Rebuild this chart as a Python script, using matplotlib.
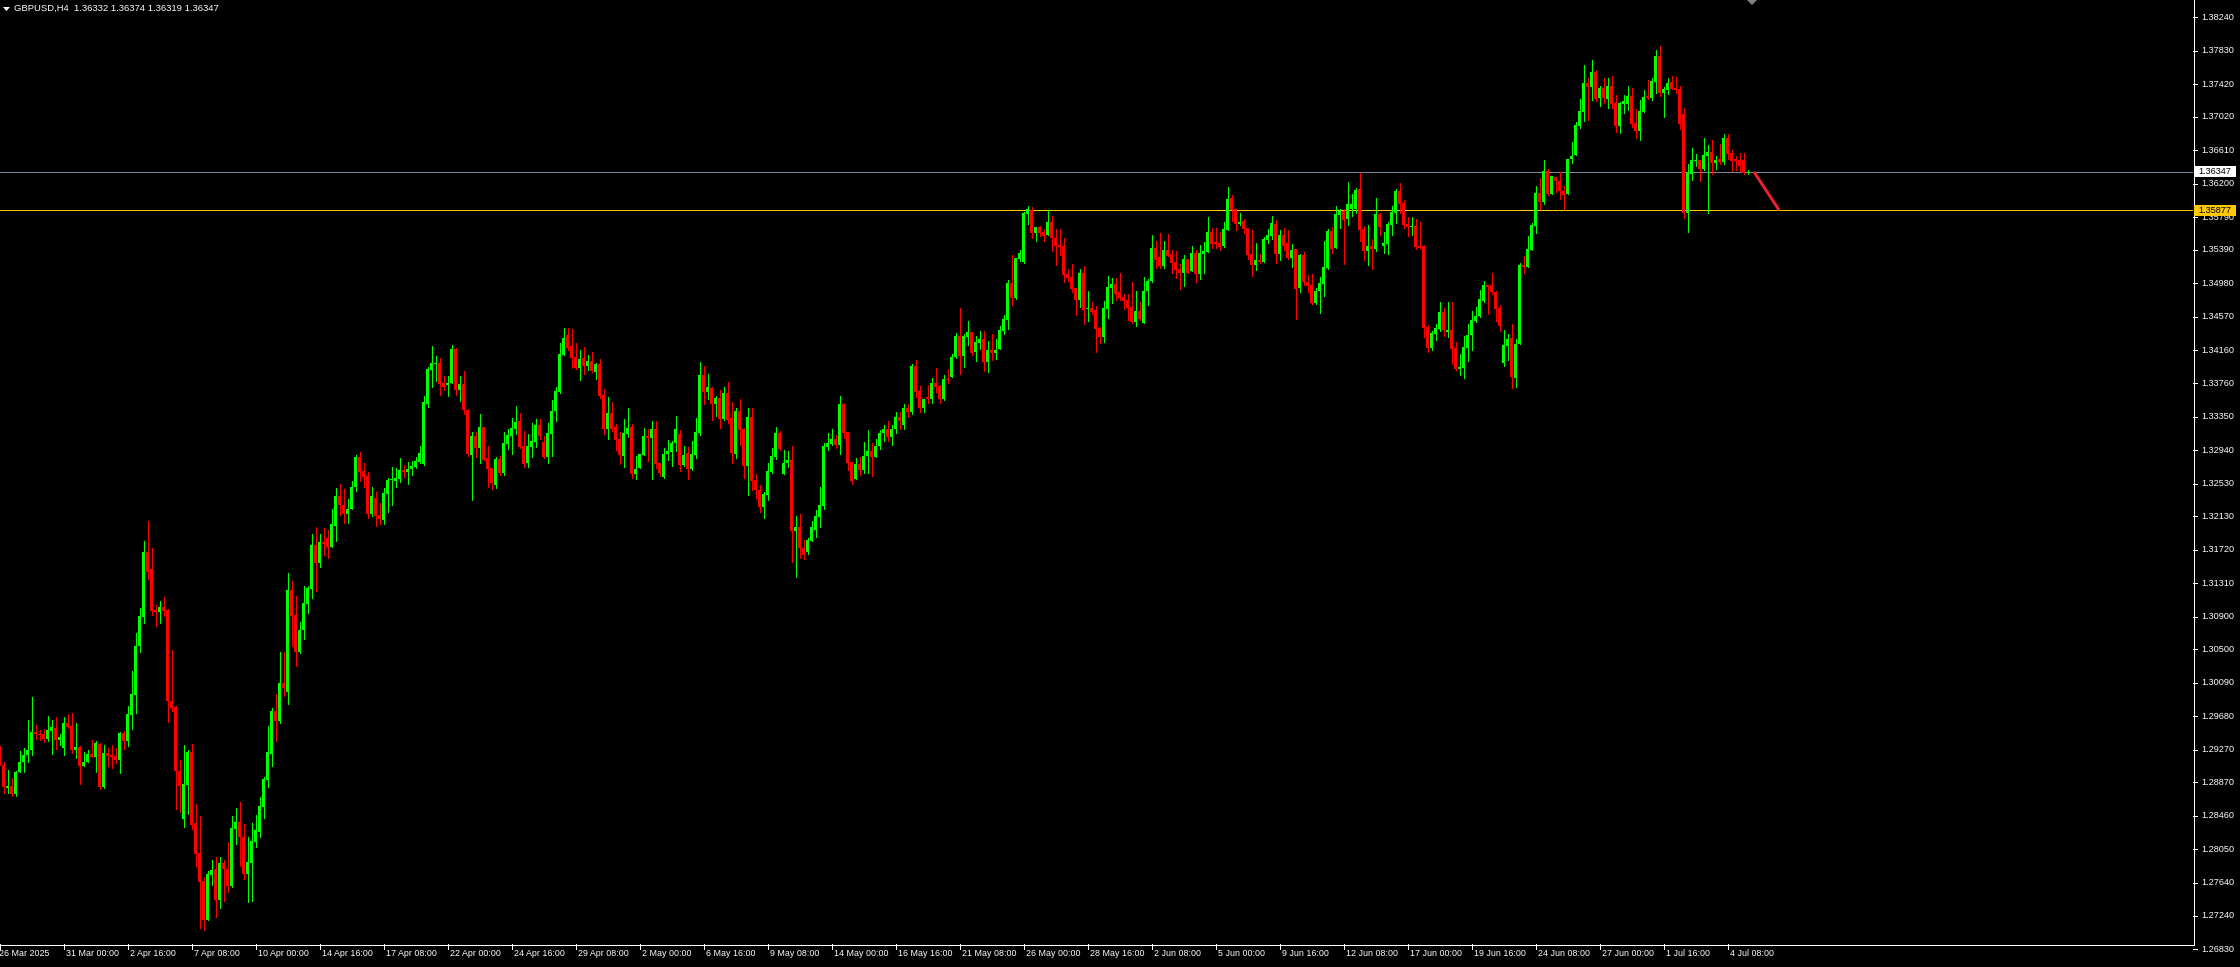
import matplotlib
matplotlib.use('Agg')
import matplotlib.pyplot as plt
from matplotlib.transforms import blended_transform_factory
from matplotlib.patches import Rectangle, Polygon
from matplotlib.lines import Line2D

plt.rcParams['font.family'] = ['Liberation Sans', 'DejaVu Sans']

# ---------------- data (GBPUSD H4) ----------------
opens = [
1.29312,1.29086,1.28806,1.28831,1.28724,1.29004,1.29115,1.29201,1.29271,1.29485,
1.29469,1.29460,1.29403,1.29501,1.29535,1.29387,1.29292,1.29597,1.29560,1.29271,
1.29300,1.29066,1.29127,1.29214,1.29177,1.29341,1.28819,1.29226,1.29201,1.29189,
1.29140,1.29473,1.29374,1.29696,1.29943,1.30535,1.30893,1.31696,1.31486,1.30979,
1.30955,1.31016,1.30979,1.29868,1.29794,1.29016,1.28424,1.28843,1.29238,1.28374,
1.28004,1.27658,1.27189,1.27732,1.27806,1.27436,1.27880,1.27806,1.27608,1.28300,
1.28386,1.28201,1.27744,1.27880,1.28139,1.28263,1.28572,1.28905,1.29214,1.29745,
1.29621,1.30090,1.29979,1.31226,1.30917,1.30473,1.30732,1.31053,1.31238,1.31781,
1.31559,1.31819,1.31868,1.31757,1.32016,1.32374,1.32263,1.32152,1.32214,1.32485,
1.32856,1.32683,1.32621,1.32152,1.32350,1.32140,1.32078,1.32399,1.32572,1.32560,
1.32584,1.32695,1.32671,1.32708,1.32732,1.32794,1.32770,1.33498,1.33918,1.33992,
1.34004,1.33757,1.33733,1.33757,1.34177,1.33671,1.33745,1.33436,1.32881,1.33115,
1.32967,1.33226,1.32843,1.32720,1.32510,1.32831,1.32658,1.33017,1.33115,1.33201,
1.33300,1.32992,1.32782,1.32979,1.33041,1.33251,1.33041,1.32856,1.33140,1.33412,
1.33646,1.34103,1.34350,1.34214,1.34078,1.33942,1.34066,1.33967,1.34029,1.33893,
1.33992,1.33609,1.33202,1.33399,1.33227,1.33079,1.32868,1.33140,1.33227,1.32646,
1.32720,1.32881,1.33115,1.33091,1.33202,1.32782,1.32609,1.32893,1.32919,1.33029,
1.33140,1.32757,1.32906,1.32708,1.32881,1.33153,1.33856,1.33646,1.33696,1.33498,
1.33572,1.33325,1.33634,1.33338,1.32893,1.33412,1.33202,1.32745,1.33350,1.32572,
1.32449,1.32239,1.32387,1.32671,1.32856,1.33153,1.32646,1.32782,1.32819,1.31955,
1.32004,1.31745,1.31687,1.31831,1.31967,1.32115,1.32251,1.32980,1.33017,1.33079,
1.33004,1.33498,1.33165,1.32794,1.32585,1.32770,1.32696,1.32869,1.32930,1.32856,
1.32992,1.33153,1.33200,1.33100,1.33200,1.33350,1.33250,1.33450,1.33400,1.33967,
1.33659,1.33450,1.33585,1.33560,1.33757,1.33721,1.33560,1.33807,1.33831,1.34079,
1.34338,1.34091,1.34326,1.34387,1.34140,1.34251,1.34301,1.34017,1.34165,1.34128,
1.34177,1.34400,1.34536,1.34980,1.34807,1.35277,1.35239,1.35831,1.35881,1.35597,
1.35671,1.35610,1.35573,1.35733,1.35536,1.35449,1.35437,1.35091,1.35054,1.34918,
1.34782,1.35103,1.34671,1.34684,1.34659,1.34436,1.34326,1.34671,1.34918,1.34967,
1.34881,1.34819,1.34782,1.34696,1.34511,1.34647,1.34498,1.34893,1.35005,1.35412,
1.35301,1.35190,1.35387,1.35338,1.35239,1.35153,1.35103,1.35276,1.35128,1.35350,
1.35091,1.35338,1.35363,1.35610,1.35486,1.35474,1.35437,1.35634,1.36029,1.35894,
1.35708,1.35746,1.35659,1.35338,1.35202,1.35264,1.35239,1.35511,1.35560,1.35708,
1.35338,1.35573,1.35474,1.35289,1.35400,1.34918,1.35326,1.34992,1.34955,1.34745,
1.34893,1.34968,1.35165,1.35622,1.35412,1.35820,1.35869,1.35770,1.35894,1.35894,
1.36140,1.35647,1.35375,1.35437,1.35400,1.35832,1.35437,1.35462,1.35696,1.35844,
1.36116,1.35968,1.35708,1.35671,1.35684,1.35437,1.35437,1.34449,1.34190,1.34363,
1.34424,1.34634,1.34387,1.34412,1.34190,1.33930,1.33939,1.34190,1.34351,1.34524,
1.34586,1.34770,1.34956,1.34956,1.34870,1.34684,1.34005,1.34216,1.34314,1.33820,
1.34240,1.35203,1.35178,1.35389,1.35684,1.36092,1.35981,1.36351,1.36080,1.36277,
1.36228,1.36117,1.36080,1.36499,1.36549,1.36907,1.37080,1.37438,1.37389,1.37574,
1.37253,1.37376,1.37240,1.37401,1.37191,1.36907,1.37179,1.37179,1.37277,1.36944,
1.36845,1.37080,1.37277,1.37253,1.37450,1.37759,1.37314,1.37351,1.37450,1.37376,
1.37364,1.37055,1.35845,1.36314,1.36475,1.36487,1.36376,1.36537,1.36586,1.36450,
1.36499,1.36462,1.36759,1.36574,1.36499,1.36487,1.36487,1.36332]

highs = [
1.29312,1.29127,1.29024,1.28930,1.29016,1.29251,1.29288,1.29634,1.29918,1.29572,
1.29518,1.29527,1.29683,1.29634,1.29670,1.29469,1.29670,1.29704,1.29720,1.29597,
1.29313,1.29238,1.29263,1.29395,1.29374,1.29350,1.29325,1.29288,1.29325,1.29288,
1.29485,1.29497,1.29806,1.30239,1.30696,1.31004,1.31831,1.32066,1.31745,1.31041,
1.31091,1.31140,1.30991,1.30498,1.29806,1.29140,1.29325,1.29263,1.29337,1.28609,
1.28461,1.27707,1.27781,1.27917,1.27954,1.27954,1.27917,1.28139,1.28461,1.28559,
1.28633,1.28362,1.28201,1.28374,1.28473,1.28695,1.28942,1.29559,1.29782,1.29955,
1.30473,1.30473,1.31436,1.31338,1.31152,1.30835,1.31275,1.31275,1.31917,1.32004,
1.31917,1.31991,1.31967,1.32214,1.32473,1.32522,1.32461,1.32337,1.32559,1.32880,
1.32918,1.32782,1.32671,1.32485,1.32424,1.32288,1.32473,1.32597,1.32732,1.32720,
1.32843,1.32757,1.32794,1.32806,1.32856,1.32992,1.33597,1.33955,1.34214,1.34090,
1.34066,1.33844,1.33844,1.34226,1.34189,1.33844,1.33905,1.33448,1.33165,1.33165,
1.33387,1.33226,1.32992,1.32720,1.32856,1.32868,1.33164,1.33201,1.33337,1.33485,
1.33399,1.33177,1.33140,1.33275,1.33325,1.33325,1.33115,1.33275,1.33547,1.33708,
1.34251,1.34436,1.34436,1.34424,1.34251,1.34165,1.34202,1.34103,1.34140,1.34005,
1.34054,1.33684,1.33585,1.33523,1.33264,1.33165,1.33325,1.33449,1.33264,1.32868,
1.32893,1.33214,1.33202,1.33301,1.33301,1.32782,1.32967,1.33066,1.33054,1.33362,
1.33190,1.32992,1.32980,1.33054,1.33338,1.34017,1.33967,1.33869,1.33708,1.33597,
1.33671,1.33708,1.33770,1.33523,1.33449,1.33560,1.33214,1.33449,1.33449,1.32646,
1.32511,1.32424,1.32782,1.32967,1.33227,1.33177,1.32943,1.32930,1.32992,1.32128,
1.32152,1.31844,1.31868,1.32066,1.32202,1.32486,1.33029,1.33153,1.33202,1.33128,
1.33597,1.33511,1.33165,1.32794,1.32844,1.32856,1.33041,1.33190,1.33029,1.33078,
1.33190,1.33250,1.33300,1.33250,1.33400,1.33400,1.33500,1.33500,1.33990,1.34041,
1.33720,1.33560,1.33733,1.33819,1.33943,1.33733,1.33856,1.33930,1.34116,1.34375,
1.34683,1.34362,1.34523,1.34387,1.34338,1.34400,1.34400,1.34276,1.34363,1.34301,
1.34461,1.34597,1.35017,1.35326,1.35289,1.35387,1.35857,1.35931,1.35918,1.35671,
1.35683,1.35647,1.35881,1.35807,1.35647,1.35647,1.35536,1.35153,1.35214,1.34918,
1.35153,1.35190,1.34893,1.34758,1.34708,1.34449,1.34770,1.35066,1.35042,1.35042,
1.35103,1.34856,1.34856,1.34992,1.34893,1.34758,1.35054,1.35029,1.35573,1.35498,
1.35597,1.35498,1.35585,1.35388,1.35375,1.35215,1.35326,1.35276,1.35437,1.35387,
1.35449,1.35486,1.35795,1.35659,1.35659,1.35610,1.35733,1.36165,1.36066,1.35894,
1.35844,1.35770,1.35659,1.35634,1.35474,1.35338,1.35548,1.35647,1.35807,1.35758,
1.35634,1.35659,1.35634,1.35462,1.35400,1.35338,1.35363,1.35079,1.35091,1.34918,
1.35054,1.35499,1.35647,1.35671,1.35931,1.35894,1.35894,1.36227,1.36079,1.36153,
1.36326,1.35684,1.35696,1.35523,1.36029,1.35844,1.35610,1.35733,1.35931,1.36140,
1.36215,1.36005,1.35795,1.35795,1.35770,1.35733,1.35449,1.34474,1.34400,1.34486,
1.34758,1.34684,1.34758,1.34758,1.34264,1.34116,1.34339,1.34487,1.34647,1.34697,
1.34894,1.35005,1.34956,1.35104,1.34882,1.34721,1.34413,1.34363,1.34487,1.34302,
1.35228,1.35314,1.35561,1.35721,1.36178,1.36265,1.36487,1.36376,1.36290,1.36277,
1.36339,1.36178,1.36499,1.36710,1.36956,1.37240,1.37648,1.37500,1.37710,1.37598,
1.37401,1.37500,1.37500,1.37524,1.37290,1.37203,1.37290,1.37401,1.37376,1.37117,
1.37228,1.37351,1.37475,1.37500,1.37833,1.37882,1.37389,1.37500,1.37524,1.37512,
1.37401,1.37129,1.36438,1.36635,1.36561,1.36487,1.36759,1.36672,1.36734,1.36537,
1.36685,1.36808,1.36808,1.36611,1.36537,1.36574,1.36574,1.36374]

lows = [
1.29086,1.28736,1.28745,1.28703,1.28699,1.29004,1.29004,1.29127,1.29210,1.29403,
1.29395,1.29366,1.29374,1.29214,1.29280,1.29329,1.29201,1.29540,1.29230,1.29169,
1.28847,1.29066,1.29127,1.29177,1.29004,1.28786,1.28807,1.29066,1.29053,1.29103,
1.28992,1.29280,1.29312,1.29527,1.29720,1.30473,1.30819,1.31362,1.30918,1.30782,
1.30819,1.30905,1.29609,1.29745,1.28547,1.28510,1.28325,1.28485,1.28300,1.27843,
1.27090,1.27065,1.27189,1.27621,1.27226,1.27337,1.27423,1.27534,1.27596,1.28115,
1.27843,1.27683,1.27411,1.27423,1.28078,1.28201,1.28436,1.28819,1.29066,1.29374,
1.29600,1.29930,1.29831,1.30547,1.30292,1.30460,1.30621,1.30942,1.31127,1.31213,
1.31510,1.31658,1.31621,1.31757,1.31831,1.32140,1.32041,1.32053,1.32214,1.32436,
1.32559,1.32485,1.32103,1.32127,1.32016,1.32029,1.32029,1.32177,1.32263,1.32485,
1.32547,1.32609,1.32522,1.32634,1.32720,1.32780,1.32757,1.33461,1.33708,1.33782,
1.33609,1.33671,1.33597,1.33757,1.33609,1.33535,1.33387,1.32868,1.32325,1.32856,
1.32782,1.32819,1.32485,1.32461,1.32473,1.32634,1.32634,1.32954,1.32893,1.33140,
1.32967,1.32732,1.32732,1.32856,1.32979,1.33078,1.32843,1.32782,1.32868,1.33300,
1.33634,1.34103,1.34165,1.33942,1.33930,1.33794,1.33868,1.33918,1.33893,1.33807,
1.33572,1.33140,1.33079,1.33177,1.32943,1.32770,1.32733,1.33103,1.32597,1.32585,
1.32720,1.32881,1.32807,1.32585,1.32720,1.32622,1.32597,1.32819,1.32745,1.32930,
1.32683,1.32745,1.32585,1.32696,1.32844,1.33128,1.33498,1.33560,1.33313,1.33362,
1.33214,1.33313,1.33276,1.32782,1.32844,1.33004,1.32597,1.32387,1.32449,1.32350,
1.32177,1.32103,1.32325,1.32659,1.32831,1.32943,1.32646,1.32733,1.31572,1.31387,
1.31621,1.31609,1.31671,1.31831,1.31881,1.32004,1.32214,1.32943,1.33004,1.32967,
1.32893,1.33091,1.32696,1.32523,1.32585,1.32634,1.32659,1.32659,1.32622,1.32856,
1.32950,1.33050,1.33050,1.33000,1.33150,1.33200,1.33200,1.33350,1.33380,1.33585,
1.33400,1.33400,1.33510,1.33510,1.33646,1.33510,1.33548,1.33757,1.33831,1.34066,
1.33869,1.33955,1.34227,1.34103,1.34029,1.34177,1.33906,1.33893,1.34042,1.34054,
1.34177,1.34362,1.34424,1.34721,1.34795,1.35252,1.35227,1.35708,1.35536,1.35498,
1.35560,1.35498,1.35573,1.35375,1.35202,1.35326,1.34992,1.35005,1.34881,1.34597,
1.34696,1.34486,1.34523,1.34610,1.34140,1.34251,1.34264,1.34560,1.34746,1.34782,
1.34782,1.34671,1.34535,1.34498,1.34461,1.34535,1.34498,1.34721,1.34992,1.35165,
1.35165,1.35165,1.35313,1.35103,1.35042,1.34906,1.34943,1.35103,1.35128,1.34992,
1.35029,1.35103,1.35363,1.35412,1.35412,1.35387,1.35425,1.35634,1.35746,1.35634,
1.35696,1.35597,1.35276,1.35066,1.35140,1.35227,1.35239,1.35474,1.35523,1.35227,
1.35264,1.35387,1.35276,1.35178,1.34548,1.34881,1.34955,1.34881,1.34733,1.34733,
1.34622,1.34832,1.35153,1.35350,1.35412,1.35659,1.35215,1.35696,1.35807,1.35844,
1.35499,1.35264,1.35202,1.35153,1.35375,1.35573,1.35350,1.35338,1.35573,1.35721,
1.35844,1.35659,1.35560,1.35573,1.35400,1.35412,1.34326,1.34140,1.34165,1.34289,
1.34400,1.34338,1.34326,1.33992,1.33918,1.33857,1.33820,1.34030,1.34166,1.34512,
1.34573,1.34758,1.34610,1.34845,1.34524,1.34400,1.33968,1.34042,1.33696,1.33709,
1.34240,1.35104,1.35178,1.35389,1.35598,1.35895,1.35956,1.36067,1.36080,1.36104,
1.36018,1.35894,1.36080,1.36450,1.36549,1.36882,1.36969,1.36981,1.37228,1.37216,
1.37154,1.37191,1.37129,1.37129,1.36833,1.36821,1.37068,1.37105,1.36895,1.36759,
1.36734,1.37080,1.37240,1.37228,1.37314,1.37277,1.37018,1.37302,1.37364,1.37314,
1.36870,1.35783,1.35610,1.36252,1.36413,1.36228,1.36364,1.35845,1.36314,1.36376,
1.36438,1.36438,1.36499,1.36351,1.36364,1.36351,1.36314,1.36319]

closes = [
1.29086,1.28819,1.28831,1.28724,1.29004,1.29115,1.29201,1.29271,1.29485,1.29469,
1.29448,1.29403,1.29510,1.29547,1.29387,1.29424,1.29597,1.29547,1.29271,1.29300,
1.29066,1.29127,1.29214,1.29177,1.29350,1.28819,1.29226,1.29189,1.29177,1.29140,
1.29473,1.29374,1.29708,1.29955,1.30547,1.30905,1.31696,1.31449,1.30967,1.30955,
1.31016,1.30967,1.29868,1.29782,1.29016,1.28831,1.28856,1.29238,1.28350,1.27991,
1.27646,1.27189,1.27744,1.27794,1.27436,1.27880,1.27806,1.27608,1.28312,1.28386,
1.28201,1.27744,1.27892,1.28152,1.28288,1.28584,1.28917,1.29238,1.29745,1.29621,
1.30090,1.30029,1.31226,1.30905,1.30473,1.30732,1.31065,1.31251,1.31781,1.31559,
1.31819,1.31794,1.31757,1.32029,1.32374,1.32263,1.32152,1.32214,1.32485,1.32856,
1.32671,1.32609,1.32152,1.32374,1.32127,1.32090,1.32411,1.32572,1.32584,1.32597,
1.32695,1.32671,1.32708,1.32745,1.32806,1.32905,1.33523,1.33930,1.34004,1.34004,
1.33745,1.33708,1.33757,1.34177,1.33671,1.33745,1.33436,1.32893,1.33115,1.32967,
1.33226,1.32819,1.32708,1.32535,1.32831,1.32658,1.33029,1.33127,1.33214,1.33288,
1.32979,1.32770,1.32992,1.33053,1.33251,1.33115,1.32856,1.33152,1.33424,1.33658,
1.34115,1.34313,1.34189,1.34066,1.33942,1.34053,1.33967,1.34029,1.33906,1.33992,
1.33597,1.33202,1.33399,1.33202,1.33066,1.32881,1.33153,1.33214,1.32646,1.32708,
1.32893,1.33115,1.33091,1.33202,1.32770,1.32659,1.32893,1.32930,1.33029,1.33202,
1.32757,1.32881,1.32708,1.32893,1.33165,1.33856,1.33646,1.33708,1.33498,1.33572,
1.33325,1.33634,1.33313,1.32906,1.33424,1.33190,1.32745,1.33350,1.32560,1.32449,
1.32239,1.32399,1.32683,1.32869,1.33153,1.32955,1.32782,1.32819,1.31955,1.32004,
1.31745,1.31659,1.31844,1.31992,1.32128,1.32264,1.32992,1.33029,1.33079,1.33004,
1.33498,1.33153,1.32782,1.32560,1.32770,1.32696,1.32869,1.32930,1.32856,1.32992,
1.33153,1.33200,1.33100,1.33200,1.33350,1.33300,1.33450,1.33400,1.33967,1.33646,
1.33450,1.33560,1.33560,1.33757,1.33708,1.33560,1.33807,1.33795,1.34079,1.34338,
1.34091,1.34338,1.34387,1.34128,1.34264,1.34301,1.34017,1.34165,1.34128,1.34165,
1.34412,1.34548,1.34980,1.34807,1.35289,1.35350,1.35844,1.35894,1.35597,1.35671,
1.35597,1.35560,1.35733,1.35536,1.35437,1.35424,1.35079,1.35042,1.34906,1.34782,
1.35103,1.34659,1.34684,1.34634,1.34424,1.34326,1.34684,1.34931,1.34967,1.34856,
1.34807,1.34770,1.34684,1.34511,1.34647,1.34548,1.34893,1.35005,1.35412,1.35264,
1.35190,1.35387,1.35313,1.35227,1.35140,1.35103,1.35276,1.35103,1.35350,1.35091,
1.35350,1.35375,1.35610,1.35462,1.35462,1.35425,1.35647,1.36017,1.35881,1.35708,
1.35733,1.35647,1.35326,1.35202,1.35264,1.35239,1.35523,1.35573,1.35721,1.35338,
1.35573,1.35437,1.35289,1.35387,1.34906,1.35326,1.34992,1.34943,1.34745,1.34893,
1.34980,1.35177,1.35622,1.35400,1.35832,1.35869,1.35758,1.35955,1.35955,1.36128,
1.35634,1.35375,1.35437,1.35400,1.35832,1.35671,1.35474,1.35708,1.35857,1.36116,
1.35955,1.35696,1.35671,1.35684,1.35425,1.35412,1.34437,1.34190,1.34375,1.34437,
1.34634,1.34412,1.34412,1.34177,1.33930,1.33951,1.34203,1.34351,1.34536,1.34586,
1.34795,1.34956,1.34931,1.34870,1.34672,1.34462,1.34228,1.34302,1.33832,1.34240,
1.35203,1.35178,1.35401,1.35697,1.36092,1.35981,1.36351,1.36080,1.36290,1.36228,
1.36117,1.36067,1.36499,1.36536,1.36919,1.37092,1.37438,1.37389,1.37574,1.37240,
1.37376,1.37253,1.37401,1.37179,1.36907,1.37191,1.37216,1.37277,1.36932,1.36845,
1.37092,1.37265,1.37253,1.37463,1.37759,1.37314,1.37364,1.37438,1.37364,1.37351,
1.36932,1.35845,1.36327,1.36487,1.36487,1.36376,1.36549,1.36586,1.36450,1.36487,
1.36462,1.36759,1.36561,1.36475,1.36475,1.36413,1.36327,1.36347]

title_text = "GBPUSD,H4  1.36332 1.36374 1.36319 1.36347"

price_ticks = [1.38240, 1.37830, 1.37420, 1.37020, 1.36610, 1.36200, 1.35790,
               1.35390, 1.34980, 1.34570, 1.34160, 1.33760, 1.33350, 1.32940,
               1.32530, 1.32130, 1.31720, 1.31310, 1.30900, 1.30500, 1.30090,
               1.29680, 1.29270, 1.28870, 1.28460, 1.28050, 1.27640, 1.27240,
               1.26830]

date_labels = ["26 Mar 2025", "31 Mar 00:00", "2 Apr 16:00", "7 Apr 08:00",
               "10 Apr 00:00", "14 Apr 16:00", "17 Apr 08:00", "22 Apr 00:00",
               "24 Apr 16:00", "29 Apr 08:00", "2 May 00:00", "6 May 16:00",
               "9 May 08:00", "14 May 00:00", "16 May 16:00", "21 May 08:00",
               "26 May 00:00", "28 May 16:00", "2 Jun 08:00", "5 Jun 00:00",
               "9 Jun 16:00", "12 Jun 08:00", "17 Jun 00:00", "19 Jun 16:00",
               "24 Jun 08:00", "27 Jun 00:00", "1 Jul 16:00", "4 Jul 08:00"]
date_label_bars = [0, 16, 32, 48, 64, 80, 96, 112, 128, 144, 160, 176, 192, 208,
                   224, 240, 256, 272, 288, 304, 320, 336, 352, 368, 384, 400,
                   416, 432]

bid_price = 1.36347
level_price = 1.35877
trend_bars = [438.6, 444.9]
trend_prices = [1.36347, 1.35877]

# ---------------- layout ----------------
W, H = 2240, 967
PLOT_R, PLOT_B = 2193, 944
BULL, BEAR = '#00FF00', '#FF0000'
AXIS_C = '#FFFFFF'
LW1 = 0.72  # one pixel at 100 dpi

fig = plt.figure(figsize=(W / 100, H / 100), dpi=100, facecolor='black')
ax = fig.add_axes([0, 1 - PLOT_B / H, PLOT_R / W, PLOT_B / H])
ax.set_facecolor('black')
ax.set_xlim(0.125, 548.375)
ax.set_ylim(1.268927, 1.384499)
ax.axis('off')

def fx(px):
    return px / W

def fy(py):
    return 1 - py / H

# candles
n = len(closes)
for i in range(n):
    o, h, l, c = opens[i], highs[i], lows[i], closes[i]
    col = BULL if c >= o else BEAR
    hi = max(h, o, c)
    lo = min(l, o, c)
    ax.vlines(i, lo, hi, color=col, lw=LW1, antialiased=False, zorder=2)
    bot = min(o, c)
    ht = max(abs(c - o), 0.000124)
    ax.add_patch(Rectangle((i - 0.375, bot), 0.75, ht, facecolor=col,
                           edgecolor='none', antialiased=False, zorder=3))

# horizontal level lines
ax.axhline(bid_price, color='#778899', lw=LW1, antialiased=False, zorder=1)
ax.axhline(level_price, color='#FFC800', lw=LW1, antialiased=False, zorder=1)

# trend line
ax.plot(trend_bars, trend_prices, color='#E8222C', lw=2.2,
        solid_capstyle='butt', zorder=4)

# axis lines
fig.add_artist(Line2D([fx(PLOT_R + 0.5)] * 2, [1, fy(PLOT_B + 0.5)],
                      color=AXIS_C, lw=LW1, antialiased=False))
fig.add_artist(Line2D([0, fx(PLOT_R + 0.5)], [fy(PLOT_B + 0.5)] * 2,
                      color=AXIS_C, lw=LW1, antialiased=False))

# right price axis
tr_y = blended_transform_factory(fig.transFigure, ax.transData)
for p in price_ticks:
    fig.add_artist(Line2D([fx(PLOT_R), fx(PLOT_R + 4)], [p, p], transform=tr_y,
                          color=AXIS_C, lw=LW1, antialiased=False))
    fig.text(fx(PLOT_R + 8), p, f"{p:.5f}", transform=tr_y, color='white',
             fontsize=6.6, ha='left', va='center')

# price tags
for price, bg in [(bid_price, '#FFFFFF'), (level_price, '#FFC800')]:
    ydisp = ax.transData.transform((1, price))[1]
    fig.add_artist(Rectangle((PLOT_R + 1, ydisp - 5.5), 42, 11,
                             transform=None, facecolor=bg, edgecolor='none',
                             zorder=5))
    fig.text(fx(PLOT_R + 5), price, f"{price:.5f}", transform=tr_y,
             color='black', fontsize=6.6, ha='left', va='center', zorder=6)

# bottom time axis
tr_x = blended_transform_factory(ax.transData, fig.transFigure)
for lab, b in zip(date_labels, date_label_bars):
    fig.add_artist(Line2D([b, b], [fy(PLOT_B), fy(PLOT_B + 5)], transform=tr_x,
                          color=AXIS_C, lw=LW1, antialiased=False))
    xoff = b + 0.75 if b > 0 else -0.15
    fig.text(xoff, fy(954), lab, transform=tr_x, color='white',
             fontsize=6.4, ha='left', va='center')

# header
fig.add_artist(Polygon([[fx(3), fy(7)], [fx(10), fy(7)], [fx(6.5), fy(11)]],
                       closed=True, transform=fig.transFigure,
                       facecolor='white', edgecolor='none'))
fig.text(fx(14), fy(8.5), title_text, color='white', fontsize=6.8,
         ha='left', va='center')

# chart shift marker
fig.add_artist(Polygon([[fx(1747), fy(0)], [fx(1757), fy(0)], [fx(1752), fy(5)]],
                       closed=True, transform=fig.transFigure,
                       facecolor='#808080', edgecolor='none'))

fig.savefig('out.png', dpi=100, facecolor='black')
